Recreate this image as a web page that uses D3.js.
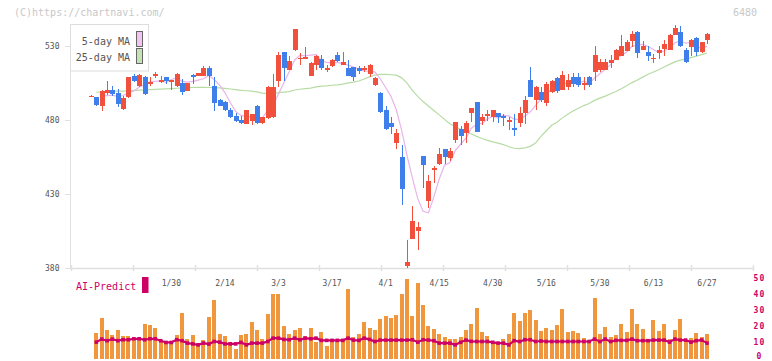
<!DOCTYPE html>
<html><head><meta charset="utf-8">
<script src="https://cdn.jsdelivr.net/npm/d3@7"></script>
<style>
body{margin:0;background:#fff}
svg{display:block}
text{font-family:"DejaVu Sans Mono","Liberation Mono",monospace}
</style>
</head><body>
<svg id="c" width="772" height="361"></svg>
<script>
// ---------------- DATA ----------------
const dates = [
"1/8","1/9","1/10","1/14","1/15","1/16","1/17","1/20","1/21","1/22","1/23","1/24","1/27","1/28","1/29","1/30","1/31",
"2/3","2/4","2/5","2/6","2/7","2/10","2/12","2/13","2/14","2/17","2/18","2/19","2/20","2/21","2/25","2/26","2/27","2/28",
"3/3","3/4","3/5","3/6","3/7","3/10","3/11","3/12","3/13","3/14","3/17","3/18","3/19","3/21","3/24","3/25","3/26","3/27","3/28","3/31",
"4/1","4/2","4/3","4/4","4/7","4/8","4/9","4/10","4/11","4/14","4/15","4/16","4/17","4/18","4/21","4/22","4/23","4/24","4/25","4/28","4/30",
"5/1","5/2","5/7","5/8","5/9","5/12","5/13","5/14","5/15","5/16","5/19","5/20","5/21","5/22","5/23","5/26","5/27","5/28","5/29","5/30",
"6/2","6/3","6/4","6/5","6/6","6/9","6/10","6/11","6/12","6/13","6/16","6/17","6/18","6/19","6/20","6/23","6/24","6/25","6/26","6/27"];

const xLabels = ["1/30","2/14","3/3","3/17","4/1","4/15","4/30","5/16","5/30","6/13","6/27"];
const yTicks = [380,430,480,530];
const aiTicks = [0,10,20,30,40,50];

const open = [
496.5,495.5,489.4,498.3,500.5,498.4,487.6,495.4,509.5,502.8,
508.8,504.5,510,506,508.8,506.3,502.8,504.8,499.9,510.7,
510,510,515.3,503.3,493.9,492.5,486.5,482.6,480.4,477.5,
479.3,489.8,477.9,481.5,482,506.2,525.7,514,527,521.5,
521.2,510,517.2,520.9,514.6,516.3,524.1,517.2,514.9,515.6,
514.9,514.6,510.9,503.9,498.6,486.5,477.9,464.5,455,381.5,
399.7,405.1,455.5,425.5,446.8,450.1,460.6,454.3,466.3,473.7,
471.2,484.9,492,479.7,483.5,482,484.7,482.6,479,474.6,
477.9,484.9,507.3,493.9,499.2,491.4,498.8,508.6,500.6,502.1,
509.3,509.3,504.5,509.3,512.2,514,514,518.3,520.8,523.4,
526.8,533.5,539.6,527.5,526.1,521.6,525,527.9,527.5,537.6,
539.6,527.5,529,535.7,525.7,534];
const high = [
497,495.8,500.5,506.6,503,501,496,509,511.3,511,
510,508.8,512.7,510,509,507.3,511.5,507.8,505.3,511,
512,516.7,516.7,508.8,494,493,488,484.5,482.5,487,
484,490,482.3,502.8,511,526.1,526,523.4,541.8,525.3,
529.5,518.9,523.6,524.1,517.2,521,525.7,526.1,520.8,515.8,
516.7,516.7,517.6,508.8,498.8,489.8,482,474.1,462.9,399,
421.9,411.1,455.7,442.7,448.8,461.3,460.8,461.3,478.8,475.9,
479.7,488.2,492.2,484.2,486.5,486.7,484.9,484.2,482,483.8,
488.7,496.5,515.6,502.8,502.6,505.5,507,508.8,513.3,511.1,
511.5,511.5,508.8,509.5,529.7,521.2,521.2,524.1,527.7,537.6,
534,540.2,539.8,533.5,530.2,524.6,530.2,534.2,537.8,544.3,
543.6,528.4,534.4,535.9,532.6,538.6];
const low = [
496,489.8,486,497,496.5,489,486.6,495,506,502.5,
497,502.8,508.2,505,504.4,500.6,502.5,497,499.6,504.4,
510,510,503.3,486,489.5,486,481.5,479,477.3,477.5,
477,477.5,477.5,481,481.5,502.1,506.2,513.8,526.8,517.2,
521,509.8,514,514,512.2,516,519,517,509.8,506.6,
511.3,512.2,509.3,503,485,473.5,470.3,460.2,422.6,380,
399.5,392.3,434.2,421,437.6,450,450.1,452.4,464.5,462.9,
464.5,478.6,472,476.4,479.7,478.6,477.9,475.9,473,469.2,
475.2,477.5,495.7,487.1,492,489.8,498.5,498.1,500.4,500.6,
502.6,502.6,500.6,502.6,506.2,512.7,513.8,515.2,520.6,523.2,
526.6,529.5,521.6,527.3,520.1,518.3,521.2,523.4,527.3,537.4,
529.5,518.7,523.4,523,525.5,531.3];
const close = [
496.5,490.3,499.3,500.5,497.7,491,494.7,508.8,506.2,510.7,
497.7,505.5,511,507.3,506.2,507,511.1,498.8,505,508.8,
511.5,515.3,510,491.4,489.8,486.5,482,479.7,477.9,486.5,
483.8,477.9,482,502.6,502,524.1,514.9,519.6,541.6,522,
522.3,518.7,523.4,515,515.1,520.8,520.1,519.4,510,508.8,
512.9,515.1,517.4,508.6,485.3,473.7,475.2,471.3,433.3,384.4,
412,407.8,449.4,438.9,447.4,456.9,455,459,478.6,469,
477.9,488,472.3,482,484,486.5,482,481.3,480.4,473,
484.7,493.9,495.9,502.6,493.9,504.4,506.6,499.9,510.7,507.3,
504.4,503.9,505.1,503.9,524.1,519.4,518.9,520.8,527.5,530.2,
532.4,537.9,525,530.2,523,522.1,527.5,531.3,537.6,542,
529.7,518.9,534.2,525.7,532.4,538.4];

const ma5 = [
null,null,496.0,496.5,496.9,495.8,496.6,498.5,499.7,502.3,
503.6,505.8,506.2,506.4,505.5,507.4,508.5,506.1,505.6,506.1,
507.0,507.9,510.1,507.4,503.6,498.6,491.9,485.9,483.2,482.5,
482.0,481.2,481.6,486.6,489.7,497.7,505.1,512.6,520.4,523.8,
523.4,523.8,524.2,520.3,518.9,518.6,518.9,518.1,517.1,515.8,
514.2,513.2,512.8,512.6,507.9,502.0,496.0,487.0,473.0,456.0,
441.0,427.0,418.5,417.5,428.0,440.1,449.5,451.4,459.4,463.7,
467.9,474.5,477.2,477.8,480.8,482.6,481.4,483.2,482.8,480.6,
480.3,482.7,485.6,490.0,494.2,498.1,500.7,501.5,503.1,505.8,
505.8,505.2,506.3,504.9,508.3,511.3,514.3,517.4,522.1,523.4,
526.0,529.8,530.6,531.1,529.7,527.6,525.6,526.8,528.3,532.1,
533.6,531.9,532.5,530.1,528.2,529.9];

const ma25 = [
null,498.8,499.0,499.2,499.4,499.5,499.6,499.8,500.0,500.2,
500.3,500.5,500.7,500.9,501.1,501.3,501.5,501.7,501.9,502.0,
502.1,502.1,502.0,501.9,501.8,501.4,501.0,500.6,500.1,499.8,
499.5,499.0,498.2,497.9,497.8,498.5,498.9,499.2,500.3,500.8,
501.2,501.6,502.4,502.9,503.1,503.5,503.8,504.3,505.1,505.6,
506.4,507.7,509.2,510.4,510.8,510.8,510.6,510.3,508.5,505.0,
500.0,496.0,492.5,489.5,486.5,483.5,480.5,477.5,475.5,473.8,
472.0,470.6,469.0,467.6,466.3,465.3,464.5,463.5,462.0,461.0,
460.8,461.3,462.3,464.6,469.0,472.8,476.5,478.6,481.5,484.0,
486.2,488.0,489.8,491.2,493.3,494.8,496.2,497.8,499.3,501.2,
503.2,505.3,507.1,509.0,510.9,512.5,514.0,515.8,517.6,519.3,
520.5,521.2,522.2,523.2,524.2,525.3];

const volume = [
null,16.1,25.5,17.8,14.7,17.8,14.1,14.1,12.2,12.2,
21.6,20.9,19.1,11.6,9.9,9.9,14.7,28.6,12.2,14.7,
8.4,11.6,26.1,36.6,15.3,14.1,9.9,5.9,14.7,15.3,
22.4,17.8,12.0,27.8,40.3,40.3,19.9,15.3,17.8,19.1,
14.1,19.1,9.9,16.2,7.8,11.6,11.6,11.6,43.4,13.2,
15.3,22.8,19.1,17.4,24.7,26.6,25.3,27.2,40.3,49.7,
26.2,47.2,33.4,19.9,18.4,14.9,13.6,12.0,12.0,13.4,
17.8,21.6,31.6,16.2,14.1,10.5,10.5,12.2,15.3,28.6,
23.4,28.6,30.3,24.1,17.2,19.1,17.8,20.9,31.0,16.2,
16.8,16.0,12.8,11.6,37.8,15.3,19.7,13.4,14.7,21.6,
16.6,31.0,21.6,18.4,12.2,24.1,17.2,21.6,12.2,17.8,
24.7,11.6,12.8,16.0,13.4,15.3];

const aiPredict = [
null,10.1,12.0,11.0,12.0,11.0,11.6,11.6,12.2,12.2,
11.6,12.2,12.2,11.0,9.9,9.9,11.6,11.0,9.5,9.0,
8.4,9.5,8.9,10.5,10.1,9.0,9.0,9.0,9.9,8.4,
9.5,9.5,9.5,10.5,12.6,12.6,11.8,11.6,12.6,11.6,
12.6,12.2,12.6,11.2,11.2,11.2,11.2,11.2,12.6,11.4,
11.2,12.6,11.8,10.5,11.4,11.4,11.4,11.4,11.4,11.4,
11.6,10.1,11.6,11.4,11.0,9.5,9.5,9.5,8.4,10.0,
11.4,10.6,10.5,10.5,10.5,10.0,9.5,9.5,8.4,11.0,
10.5,11.6,11.6,10.5,10.8,10.5,10.5,10.5,10.5,10.5,
10.5,10.5,10.5,10.5,12.0,10.5,12.0,10.5,11.2,11.2,
11.2,12.0,11.0,11.0,11.0,11.4,11.4,11.4,10.1,12.0,
11.4,11.4,10.1,11.0,11.4,9.5];

// ---------------- STYLE ----------------
const UP = "#f0503c", DOWN = "#3f7fec", VOL = "#f0963c", AI = "#cc0066";
const MA5C = "#e8b4ec", MA25C = "#b6dca4", AXIS = "#e0e0e0", TXT = "#555";

// ---------------- SCALES ----------------
const svg = d3.select("#c");
const x = d3.scalePoint().domain(dates).range([91, 707]);
const y = d3.scaleLinear().domain([380, 530]).range([268.3, 46]);
const yv = d3.scaleLinear().domain([0, 50]).range([358.3, 278.3]);
const xt = d3.scaleLinear().domain([0, 11]).range([70.5, 752.5]);

// header texts
svg.append("text").attr("x", 14).attr("y", 15.5).attr("font-size", 10).attr("fill", "#c8c8c8")
  .text("(C)https://chartnavi.com/");
svg.append("text").attr("x", 757).attr("y", 15.5).attr("font-size", 10).attr("fill", "#c8c8c8")
  .attr("text-anchor", "end").text("6480");

// axes
svg.append("line").attr("x1", 70.5).attr("x2", 70.5).attr("y1", 24).attr("y2", 268.5)
  .attr("stroke", AXIS);
svg.append("line").attr("x1", 70).attr("x2", 753).attr("y1", 268.5).attr("y2", 268.5)
  .attr("stroke", AXIS).attr("stroke-width", 1.5);
svg.append("g").selectAll("line").data(d3.range(12)).join("line")
  .attr("x1", d => Math.round(xt(d)) + 0.5).attr("x2", d => Math.round(xt(d)) + 0.5)
  .attr("y1", 265).attr("y2", 271).attr("stroke", AXIS).attr("stroke-width", 1.5);

const yg = svg.append("g");
yg.selectAll("line").data(yTicks).join("line")
  .attr("x1", 65).attr("x2", 70).attr("y1", d => Math.round(y(d)) + 0.5).attr("y2", d => Math.round(y(d)) + 0.5)
  .attr("stroke", AXIS);
yg.selectAll("text").data(yTicks).join("text")
  .attr("x", 59.5).attr("y", d => y(d) + 3).attr("text-anchor", "end")
  .attr("font-size", 8).attr("fill", TXT).text(d => d);

svg.append("g").selectAll("text").data(xLabels).join("text")
  .attr("x", d => x(d)).attr("y", 285.5).attr("text-anchor", "middle")
  .attr("font-size", 8).attr("fill", TXT).text(d => d);

// moving averages
const idx = d3.range(dates.length);
const lineOf = arr => d3.line().defined(i => arr[i] != null)
  .x(i => x(dates[i])).y(i => y(arr[i]));
svg.append("path").datum(idx).attr("d", lineOf(ma25)).attr("fill", "none")
  .attr("stroke", MA25C).attr("stroke-width", 1.2);
svg.append("path").datum(idx).attr("d", lineOf(ma5)).attr("fill", "none")
  .attr("stroke", MA5C).attr("stroke-width", 1.2);

// candles
const cg = svg.append("g").attr("shape-rendering", "crispEdges");
const col = i => close[i] >= open[i] ? UP : DOWN;
cg.selectAll("line").data(idx).join("line")
  .attr("x1", i => Math.round(x(dates[i])) + 0.5).attr("x2", i => Math.round(x(dates[i])) + 0.5)
  .attr("y1", i => y(high[i])).attr("y2", i => y(low[i]))
  .attr("stroke", col).attr("stroke-width", 1);
cg.selectAll("rect").data(idx).join("rect")
  .attr("x", i => Math.round(x(dates[i])) - 2).attr("width", 5)
  .attr("y", i => y(Math.max(open[i], close[i])))
  .attr("height", i => Math.max(1.6, Math.abs(y(open[i]) - y(close[i]))))
  .attr("fill", col);

// legend
const lg = svg.append("g");
lg.append("rect").attr("x", 70.5).attr("y", 24.5).attr("width", 78).attr("height", 46.5)
  .attr("fill", "#fff").attr("stroke", "#dddddd");
lg.append("text").attr("x", 130).attr("y", 44.5).attr("text-anchor", "end")
  .attr("font-size", 10).attr("fill", TXT).text("5-day MA");
lg.append("text").attr("x", 130).attr("y", 60.5).attr("text-anchor", "end")
  .attr("font-size", 10).attr("fill", TXT).text("25-day MA");
lg.append("rect").attr("x", 136.5).attr("y", 31.5).attr("width", 6).attr("height", 15)
  .attr("fill", "#f2c4f2").attr("stroke", "#666");
lg.append("rect").attr("x", 136.5).attr("y", 48.5).attr("width", 6).attr("height", 15)
  .attr("fill", "#c4e2b4").attr("stroke", "#666");

// volume bars
svg.append("g").attr("shape-rendering", "crispEdges").selectAll("rect")
  .data(idx.filter(i => volume[i] != null)).join("rect")
  .attr("x", i => Math.round(x(dates[i])) - 2).attr("width", 4)
  .attr("y", i => yv(volume[i])).attr("height", i => yv(0) - yv(volume[i]) + 0.7)
  .attr("fill", VOL);

// AI predict line
const aiIdx = idx.filter(i => aiPredict[i] != null);
svg.append("path").datum(aiIdx)
  .attr("d", d3.line().x(i => x(dates[i])).y(i => yv(aiPredict[i])))
  .attr("fill", "none").attr("stroke", AI).attr("stroke-width", 2.2);
svg.append("g").selectAll("rect").data(aiIdx).join("rect")
  .attr("x", i => x(dates[i]) - 1.8).attr("y", i => yv(aiPredict[i]) - 1.8)
  .attr("width", 3.6).attr("height", 3.6).attr("fill", AI);

// right axis
svg.append("g").selectAll("text").data(aiTicks).join("text")
  .attr("x", 759.5).attr("y", d => Math.min(yv(d) + 2.8, 358.6)).attr("text-anchor", "middle")
  .attr("font-size", 8).attr("font-weight", "bold").attr("letter-spacing", 1.2)
  .attr("fill", AI).text(d => d);

// AI legend
svg.append("text").attr("x", 76).attr("y", 289.5).attr("font-size", 10).attr("fill", AI)
  .text("AI-Predict");
svg.append("rect").attr("x", 142).attr("y", 277).attr("width", 6.5).attr("height", 16)
  .attr("fill", AI);
</script>
</body></html>
